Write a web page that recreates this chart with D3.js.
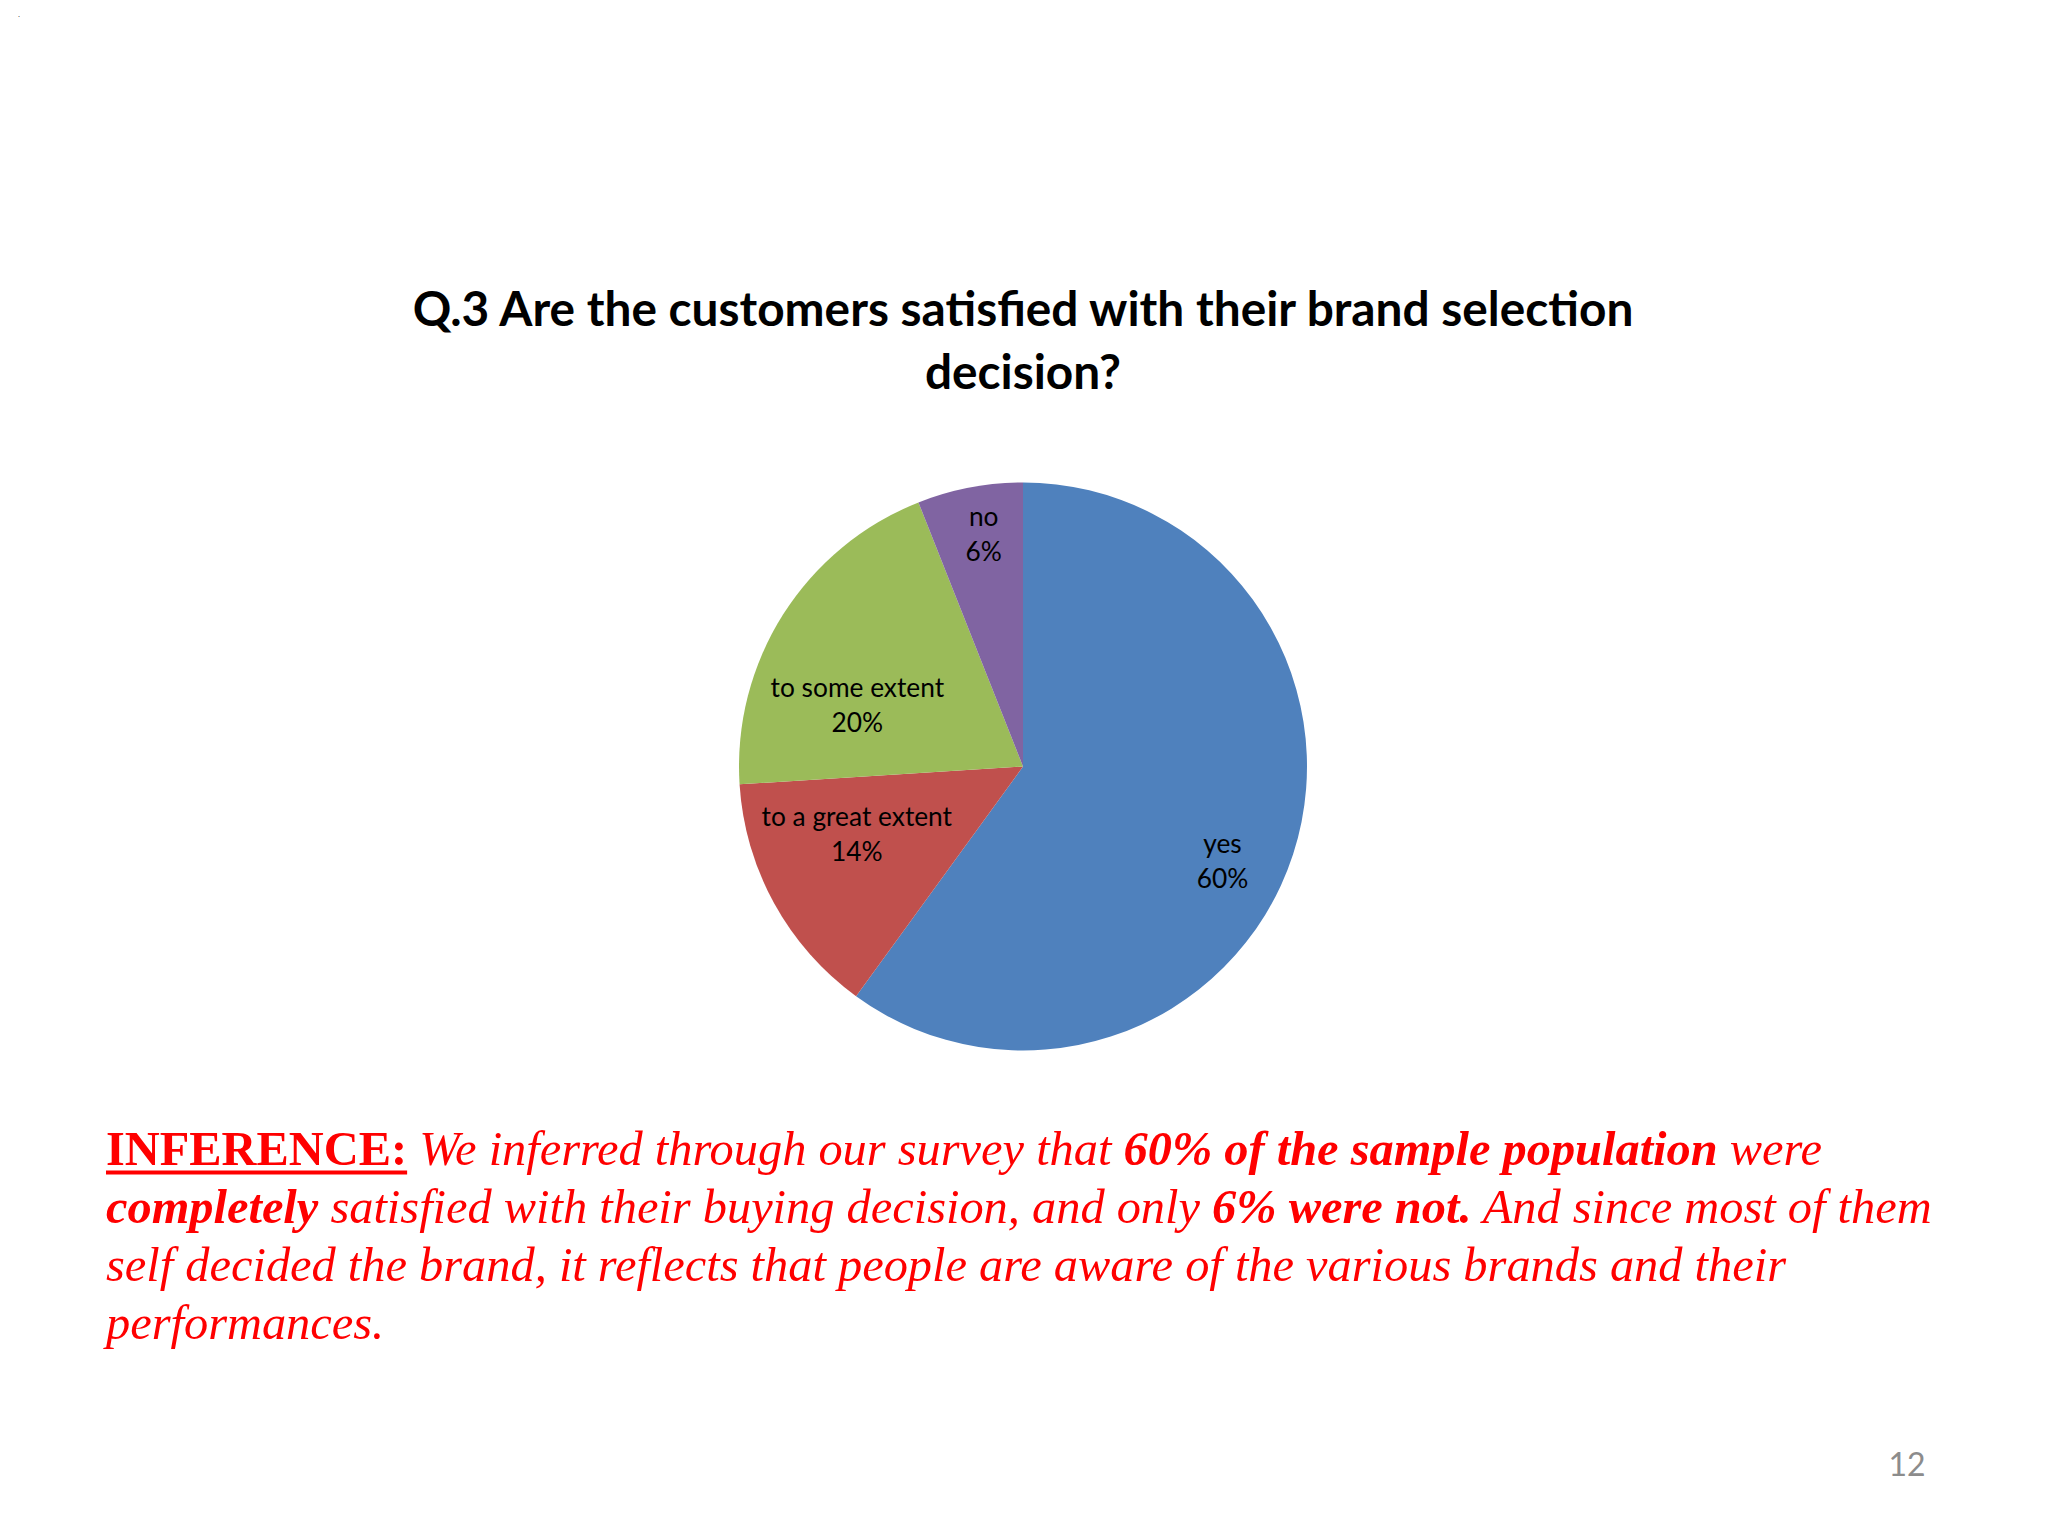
<!DOCTYPE html>
<html>
<head>
<meta charset="utf-8">
<script src="https://cdn.jsdelivr.net/npm/d3@7"></script>
<style>
  html, body { margin: 0; padding: 0; background: #ffffff; }
  svg { display: block; }
</style>
</head>
<body>
<svg id="chart" width="2048" height="1536"></svg>
<script>
// ---- data ----
const categories = ["yes", "to a great extent", "to some extent", "no"];
const values = [60, 14, 20, 6];
const colors = ["#4F81BD", "#C0504D", "#9BBB59", "#8064A2"];
const titleLines = ["Q.3 Are the customers satisfied with their brand selection", "decision?"];
const pageNumber = "12";
const inferenceLines = [
  [["INFERENCE:", "head"], [" We inferred through our survey that ", "i"], ["60% of the sample population", "bi"], [" were", "i"]],
  [["completely", "bi"], [" satisfied with their buying decision, and only ", "i"], ["6% were not.", "bi"], [" And since most of them", "i"]],
  [["self decided the brand, it reflects that people are aware of the various brands and their", "i"]],
  [["performances.", "i"]]
];

// ---- layout ----
const svg = d3.select("#chart");
const W = 2048, H = 1536;
svg.append("rect").attr("width", W).attr("height", H).attr("fill", "#ffffff");

const cx = 1023, cy = 766.5, R = 284;
const labelFont = "Lato, 'Open Sans', sans-serif";
const titleFont = "Lato, 'Open Sans', sans-serif";

// title
const title = svg.append("text")
  .attr("text-anchor", "middle")
  .attr("font-family", titleFont)
  .attr("font-weight", "bold")
  .attr("fill", "#000000");
title.selectAll("tspan").data(titleLines).join("tspan")
  .attr("x", cx)
  .attr("y", (d, i) => 326 + i * 63)
  .text(d => d);
// fit title size to reference width
title.attr("font-size", 44);
const t0 = title.select("tspan").node().getComputedTextLength();
title.attr("font-size", 44 * 1221 / t0);

// pie
const pie = d3.pie().value(d => d.value).sort(null);
const arc = d3.arc().innerRadius(0).outerRadius(R);
const data = categories.map((c, i) => ({ name: c, value: values[i], color: colors[i] }));
const arcs = pie(data);
const g = svg.append("g").attr("transform", `translate(${cx},${cy})`);
g.selectAll("path.slice").data(arcs).join("path")
  .attr("class", "slice")
  .attr("d", arc)
  .attr("fill", d => d.data.color);

// labels: centroid of a label arc plus a small nudge (Excel best-fit placement)
const labelArc = d3.arc().innerRadius(R * 0.72).outerRadius(R * 0.72);
const labelNudge = { "yes": [5, 31], "to a great extent": [13, -31], "to some extent": [7, 48], "no": [-1, -32] };
const total = d3.sum(values);
const lbl = g.selectAll("text.lbl").data(arcs).join("text")
  .attr("class", "lbl")
  .attr("text-anchor", "middle")
  .attr("font-family", labelFont)
  .attr("font-size", 26.3)
  .attr("fill", "#000000");
lbl.each(function(d) {
  const c = labelArc.centroid(d);
  const n = labelNudge[d.data.name];
  const x = c[0] + n[0], y = c[1] + n[1];
  const t = d3.select(this);
  t.append("tspan").attr("x", x).attr("y", y - 8).text(d.data.name);
  t.append("tspan").attr("x", x).attr("y", y + 27).text(Math.round(d.data.value / total * 100) + "%");
});

// inference paragraph
const infX = 106, infY0 = 1164.5, infLH = 58.3, infSize = 48.4;
inferenceLines.forEach((line, li) => {
  const t = svg.append("text")
    .attr("x", infX).attr("y", infY0 + li * infLH)
    .attr("font-family", "'Liberation Serif', 'Times New Roman', serif")
    .attr("font-size", infSize)
    .attr("fill", "#FF0000")
    .attr("xml:space", "preserve")
    .style("white-space", "pre");
  line.forEach(([txt, sty]) => {
    const sp = t.append("tspan").text(txt);
    if (sty === "head") { sp.attr("font-weight", "bold"); }
    if (sty === "i") { sp.attr("font-style", "italic"); }
    if (sty === "bi") { sp.attr("font-style", "italic").attr("font-weight", "bold"); }
  });
  if (li === 0) {
    const headW = t.select("tspan").node().getComputedTextLength();
    svg.append("rect").attr("x", infX).attr("y", infY0 + 6).attr("width", headW).attr("height", 4).attr("fill", "#FF0000");
  }
});

// page number
svg.append("text")
  .attr("x", 1907).attr("y", 1476)
  .attr("text-anchor", "middle")
  .attr("font-family", labelFont)
  .attr("font-size", 32)
  .attr("fill", "#8C8C8C")
  .text(pageNumber);

// tiny mark in top-left corner
svg.append("text").attr("x", 18).attr("y", 17).attr("font-size", 8).attr("fill", "#000").text(".");
</script>
</body>
</html>
